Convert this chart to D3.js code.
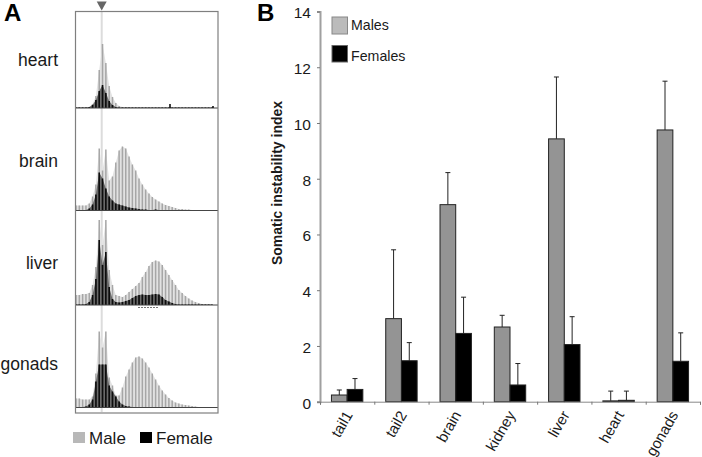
<!DOCTYPE html>
<html><head><meta charset="utf-8">
<script src="https://cdn.jsdelivr.net/npm/d3@7/dist/d3.min.js"></script>
<style>html,body{margin:0;padding:0;background:#fff}svg{display:block}text{font-family:"Liberation Sans",Arial,sans-serif;fill:#1a1a1a}</style>
</head><body><svg id="c" width="702" height="457"></svg>
<script>
// Panel B
const tissues=["tail1","tail2","brain","kidney","liver","heart","gonads"];
const malesMean=[0.24,2.98,7.07,2.68,9.43,0.03,9.75];
const femalesMean=[0.44,1.47,2.45,0.6,2.05,0.05,1.45];
const malesErrTop=[0.42,5.45,8.22,3.1,11.65,0.38,11.5];
const femalesErrTop=[0.83,2.12,3.75,1.37,3.05,0.38,2.47];
const yTicks=[0,2,4,6,8,10,12,14];
// Panel A: stem heights by repeat index
const panelNames=["heart","brain","liver","gonads"];
const heartMale=[1,1,1,1,1,4,12,38,64,45,22,11,5,2,1,1,1,.5,.5,.5,.5,.5,.5,.5,.5,.5,.5,.5,.5,.5,.5,.5,.5,.5,.5,.5,.5,.5,.5,.5,.5,.5];
const heartFemale=[.5,.5,.5,.5,1,3,8,17,23,15,7,3,1,.5,.5,.5,.5,.5,.5,.5,.5,.5,.5,.5,.5,.5,.5,.5,.5,.5,.5,.5,.5,.5,.5,.5,.5,.5,.5,.5,.5,.5];
const heartSpikes=[[170,4],[213,2]];
const brainMale=[5,5,5,5,7,14,26,62,40,61,30,34,48,60,64,62,54,46,40,32,26,21,17,13.5,11,9,7,5.5,4.5,3.5,2.5,1.5,1.5,1,1,.5,.5,.5,.5,.5,.5,.5];
const brainFemale=[.5,.5,.5,.5,2,6,16,38,32,22,14,10,7,6,5,4,3,2.5,2,1.5,1,1,.5,.5,1,.5,.5,.5,.5,.5,.5,.5,.5,.5,.5,.5,.5,.5,.5,.5,.5,.5];
const liverMale=[10,10,11,11,12,20,38,85,60,85,35,20,10,9,8,10,13,16,19,22,28,33,39,43,44.5,43.5,40,35,30,25,20,15,12,9,6.5,4.5,3,2,1,.5,.5,.5];
const liverFemale=[.5,.5,.5,1,3,10,26,65,40,53,18,6,3,2.5,3,4,5,7,9,10,10.5,10,10,10.5,11,10.5,8,5,3.5,2,1,.5,.5,.5,.5,.5,.5,.5,.5,.5,.5,.5];
const gonadsMale=[9,9,8,8,8,11,34,76,60,76,30,22,12,12,20,31,38,45,50,51,49,45,40,34,28,22,17,13,9.5,7,5,4,3,2.5,2,1.5,1,.5,.5,.5,.5,.5];
const gonadsFemale=[.5,.5,.5,1,3,8,26,43,43,43,22,16,11,6,3,1.5,1,.5,.5,.5,.5,.5,.5,.5,.5,.5,.5,.5,.5,.5,.5,.5,.5,.5,.5,.5,.5,.5,.5,.5,.5,.5];

const svg=d3.select("#c");
svg.append("defs").append("filter").attr("id","soft").attr("x","-5%").attr("y","-5%").attr("width","110%").attr("height","110%")
  .append("feGaussianBlur").attr("stdDeviation",0.4);

// ---------- Panel A
const A=svg.append("g");
const stemX=d3.scaleLinear().domain([0,41]).range([76,212]);
const panels=[
 {name:panelNames[0],base:108,label:66,m:heartMale,f:heartFemale},
 {name:panelNames[1],base:210.5,label:167,m:brainMale,f:brainFemale},
 {name:panelNames[2],base:305,label:269,m:liverMale,f:liverFemale},
 {name:panelNames[3],base:407.5,label:370,m:gonadsMale,f:gonadsFemale}];
const h=d3.scaleLinear().domain([0,100]).range([0,100]);
const marks=A.append("g").attr("filter","url(#soft)");
marks.append("line").attr("x1",101.7).attr("x2",101.7).attr("y1",12).attr("y2",412).attr("stroke","#dcdcdc").attr("stroke-width",2);
panels.forEach(p=>{
  const g=marks.append("g");
  const env=d3.area().x((d,i)=>stemX(i)).y0(p.base).y1(d=>p.base-h(d));
  g.append("path").attr("d",env(p.m)).attr("fill","#e2e2e2");
  g.selectAll(".m").data(p.m).join("line").attr("class","m")
    .attr("x1",(d,i)=>stemX(i)).attr("x2",(d,i)=>stemX(i))
    .attr("y1",p.base).attr("y2",d=>p.base-h(d))
    .attr("stroke","#a6a6a6").attr("stroke-width",1.5);
  g.append("path").attr("d",env(p.f)).attr("fill","#555").attr("fill-opacity",.85);
  g.selectAll(".f").data(p.f).join("line").attr("class","f")
    .attr("x1",(d,i)=>stemX(i)).attr("x2",(d,i)=>stemX(i))
    .attr("y1",p.base).attr("y2",d=>p.base-h(d))
    .attr("stroke","#0a0a0a").attr("stroke-width",1.6);
  g.append("line").attr("x1",76).attr("x2",218).attr("y1",p.base).attr("y2",p.base).attr("stroke","#444").attr("stroke-width",1);
});
marks.selectAll(".spike").data(heartSpikes).join("line").attr("class","spike")
  .attr("x1",d=>d[0]).attr("x2",d=>d[0]).attr("y1",108).attr("y2",d=>108-d[1]).attr("stroke","#111").attr("stroke-width",1.6);
marks.append("line").attr("x1",138).attr("x2",158).attr("y1",307.5).attr("y2",307.5).attr("stroke","#777").attr("stroke-width",1).attr("stroke-dasharray","2 1");
A.append("rect").attr("x",75.5).attr("y",11.5).attr("width",142.5).attr("height",401.5).attr("fill","none").attr("stroke","#7f7f7f").attr("stroke-width",1.2);
A.append("path").attr("d","M96.7 1.5 L106.7 1.5 L101.7 10.5 Z").attr("fill","#666");
A.selectAll(".pl").data(panels).join("text").attr("class","pl")
  .attr("x",58).attr("y",d=>d.label).attr("text-anchor","end").attr("font-size",17.5).text(d=>d.name);
A.append("text").attr("x",4).attr("y",21).attr("font-size",24).attr("font-weight",700).style("fill","#000").text("A");
A.append("rect").attr("x",73).attr("y",432).attr("width",12).attr("height",11).attr("fill","#b8b8b8");
A.append("text").attr("x",89).attr("y",444).attr("font-size",17).text("Male");
A.append("rect").attr("x",140).attr("y",432).attr("width",12).attr("height",11).attr("fill","#000");
A.append("text").attr("x",156).attr("y",444).attr("font-size",17).text("Female");

// ---------- Panel B
const B=svg.append("g");
const x0=d3.scaleBand().domain(tissues).range([320,700]).paddingInner(0).paddingOuter(0);
const y=d3.scaleLinear().domain([0,14]).range([401.7,11.5]);
const barW=15.7;
const rows=tissues.map((t,i)=>({t,m:malesMean[i],f:femalesMean[i],me:malesErrTop[i],fe:femalesErrTop[i]}));
const series=[
 {k:"m",e:"me",fill:"#949494",dx:-barW},
 {k:"f",e:"fe",fill:"#000",dx:0}];
series.forEach(s=>{
  const g=B.append("g");
  const cx=d=>x0(d.t)+x0.bandwidth()/2+s.dx+barW/2;
  g.selectAll(".eb").data(rows).join("line").attr("x1",cx).attr("x2",cx)
    .attr("y1",d=>y(d[s.k])).attr("y2",d=>y(d[s.e])).attr("stroke","#222").attr("stroke-width",1);
  g.selectAll(".cap").data(rows).join("line").attr("x1",d=>cx(d)-2.5).attr("x2",d=>cx(d)+2.5)
    .attr("y1",d=>y(d[s.e])).attr("y2",d=>y(d[s.e])).attr("stroke","#222").attr("stroke-width",1);
  g.selectAll("rect").data(rows).join("rect")
    .attr("x",d=>x0(d.t)+x0.bandwidth()/2+s.dx).attr("width",barW)
    .attr("y",d=>y(d[s.k])).attr("height",d=>y(0)-y(d[s.k]))
    .attr("fill",s.fill).attr("stroke","#222").attr("stroke-width",1);
});
// y axis
const ya=B.append("g").attr("transform","translate(320,0)").call(d3.axisLeft(y).tickValues(yTicks).tickSize(3).tickPadding(6));
ya.select(".domain").attr("stroke","#a0a0a0").attr("stroke-width",2);
ya.selectAll(".tick line").attr("stroke","#777");
ya.selectAll("text").attr("font-size",15.5).attr("font-family","Liberation Sans").attr("y",1.5);
// x axis boundary ticks
const xb=d3.scaleLinear().domain([0,tissues.length]).range([320,700]);
const xa=B.append("g").attr("transform","translate(0,401.7)").call(d3.axisBottom(xb).ticks(7).tickSize(3).tickFormat(""));
xa.select(".domain").attr("stroke","#888");
xa.selectAll(".tick line").attr("stroke","#777");
// category labels
const xl=B.append("g").attr("transform","translate(0,401.7)").call(d3.axisBottom(x0).tickSize(0).tickPadding(0));
xl.select(".domain").remove();
xl.selectAll("text").attr("font-size",15).attr("font-family","Liberation Sans").attr("text-anchor","end").attr("y",0).attr("dy",0).attr("dx",0)
  .attr("transform","translate(6,13) rotate(-60)");
B.append("text").attr("transform","translate(281.5,183) rotate(-90)").attr("text-anchor","middle").attr("font-size",14).attr("font-weight",700).text("Somatic instability index");
B.append("text").attr("x",257).attr("y",21).attr("font-size",24).attr("font-weight",700).style("fill","#000").text("B");
B.append("rect").attr("x",332).attr("y",17).attr("width",15.5).attr("height",17).attr("fill","#bbb").attr("stroke","#888").attr("stroke-width",1);
B.append("text").attr("x",351).attr("y",30).attr("font-size",14.2).text("Males");
B.append("rect").attr("x",332).attr("y",45.5).attr("width",15.5).attr("height",16.5).attr("fill","#000").attr("stroke","#666").attr("stroke-width",1);
B.append("text").attr("x",351).attr("y",61).attr("font-size",14.2).text("Females");
</script></body></html>
